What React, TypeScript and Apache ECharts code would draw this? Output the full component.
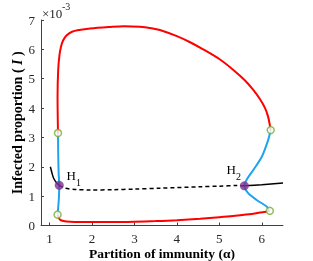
import React, { useEffect, useRef } from "react";
import * as echarts from "echarts";

const xTicks = [1, 2, 3, 4, 5, 6];

const redUpper: [number, number][] = [
  [1.2, 3.15], [1.19, 4.4], [1.205, 5.3], [1.235, 5.8], [1.27, 6.08], [1.32, 6.3], [1.4, 6.47],
  [1.53, 6.6], [1.7, 6.66], [1.96, 6.71], [2.4, 6.76], [2.75, 6.79], [3.13, 6.77], [3.4, 6.72],
  [3.6, 6.66], [4.0, 6.45], [4.3, 6.25], [4.62, 6.0], [5.0, 5.67], [5.33, 5.3], [5.6, 4.95],
  [5.8, 4.62], [5.96, 4.3], [6.08, 3.99], [6.15, 3.7], [6.19, 3.42], [6.21, 3.25],
];
const redLower: [number, number][] = [
  [1.19, 0.37], [1.22, 0.25], [1.27, 0.18], [1.4, 0.14], [1.8, 0.12], [2.5, 0.12], [3.0, 0.13],
  [3.5, 0.15], [4.0, 0.18], [4.55, 0.23], [5.0, 0.28], [5.32, 0.32], [5.7, 0.38], [5.96, 0.44],
  [6.1, 0.47], [6.19, 0.5],
];
const blueLeft: [number, number][] = [
  [1.2, 3.15], [1.205, 2.5], [1.215, 1.8], [1.23, 1.37], [1.22, 0.9], [1.19, 0.37],
];
const blueRight: [number, number][] = [
  [6.21, 3.25], [6.15, 2.91], [6.0, 2.34], [5.8, 1.89], [5.64, 1.55], [5.59, 1.35], [5.68, 1.1],
  [5.88, 0.87], [6.12, 0.64], [6.19, 0.5],
];
const blackLeft: [number, number][] = [
  [1.02, 2.0], [1.06, 1.78], [1.1, 1.6], [1.17, 1.45], [1.23, 1.37],
];
const blackDashed: [number, number][] = [
  [1.23, 1.37], [1.37, 1.27], [1.6, 1.23], [1.96, 1.21], [2.5, 1.22], [3.0, 1.24], [3.6, 1.27],
  [4.55, 1.32], [5.0, 1.34], [5.41, 1.36], [5.59, 1.35],
];
const blackRight: [number, number][] = [[5.59, 1.35], [6.0, 1.39], [6.5, 1.45]];
const limitPoints: [number, number][] = [[1.2, 3.15], [1.19, 0.37], [6.21, 3.25], [6.19, 0.5]];
const hopfPoints: [number, number][] = [[1.23, 1.37], [5.59, 1.35]];

const FONT = "Liberation Serif";
const AX = "#404040";

export default function App() {
  const ref = useRef<HTMLDivElement>(null);
  useEffect(() => {
    if (!ref.current) return;
    const chart = echarts.init(ref.current, undefined, { renderer: "svg" });
    const line = (data: [number, number][], color: string, type: any = "solid", width = 2) => ({
      type: "line",
      data,
      smooth: 0.3,
      symbol: "none",
      lineStyle: { color, width, type },
      z: 2,
    });
    chart.setOption({
      animation: false,
      grid: { left: 41, right: 30, top: 20, bottom: 35.5, outerBoundsMode: "none", containLabel: false },
      xAxis: {
        type: "value",
        min: 0.8,
        max: 6.5,
        name: "Partition of immunity (α)",
        nameLocation: "middle",
        nameGap: 21,
        nameMoveOverlap: false,
        nameTextStyle: { fontFamily: FONT, fontWeight: "bold", fontSize: 13.5, color: "#000" },
        axisLine: { lineStyle: { color: AX, width: 1 } },
        axisTick: { inside: true, length: 3, customValues: xTicks, lineStyle: { color: AX } },
        axisLabel: { customValues: xTicks, fontFamily: FONT, fontSize: 13, color: "#262626", margin: 6 },
        splitLine: { show: false },
      },
      yAxis: {
        type: "value",
        min: 0,
        max: 7,
        interval: 1,
        name: "Infected proportion ( {i|I} )",
        nameLocation: "middle",
        nameGap: 17,
        nameMoveOverlap: false,
        nameTextStyle: {
          fontFamily: FONT, fontWeight: "bold", fontSize: 14, color: "#000",
          rich: { i: { fontFamily: FONT, fontWeight: "bold", fontStyle: "italic", fontSize: 14, color: "#000" } },
        },
        axisLine: { show: true, lineStyle: { color: AX, width: 1 } },
        axisTick: { show: true, inside: true, length: 3, lineStyle: { color: AX } },
        axisLabel: { fontFamily: FONT, fontSize: 13, color: "#262626", margin: 6 },
        splitLine: { show: false },
      },
      series: [
        line(redUpper, "#ff0000"),
        line(redLower, "#ff0000"),
        line(blueLeft, "#1ea4ee"),
        line(blueRight, "#1ea4ee"),
        line(blackLeft, "#000", "solid", 1.5),
        line(blackDashed, "#000", [4, 3], 1.5),
        line(blackRight, "#000", "solid", 1.5),
        {
          type: "scatter",
          data: limitPoints,
          symbol: "circle",
          symbolSize: 7,
          itemStyle: { color: "#fff", borderColor: "#77ac30", borderWidth: 1.5 },
          z: 5,
        },
        {
          type: "scatter",
          data: hopfPoints,
          symbol: "circle",
          symbolSize: 9,
          itemStyle: { color: "#7e2f8e" },
          z: 6,
        },
      ],
      graphic: [
        { type: "text", x: 42, y: 13, z: 10, style: { text: "×10", fontFamily: FONT, fontSize: 13, fill: "#262626", verticalAlign: "middle" } },
        { type: "text", x: 62, y: 6, z: 10, style: { text: "-3", fontFamily: FONT, fontSize: 10, fill: "#262626", verticalAlign: "middle" } },
        { type: "text", x: 66.5, y: 175, z: 10, style: { text: "H", fontFamily: FONT, fontSize: 13, fill: "#000", verticalAlign: "middle" } },
        { type: "text", x: 76, y: 182, z: 10, style: { text: "1", fontFamily: FONT, fontSize: 10, fill: "#000", verticalAlign: "middle" } },
        { type: "text", x: 226.5, y: 169, z: 10, style: { text: "H", fontFamily: FONT, fontSize: 13, fill: "#000", verticalAlign: "middle" } },
        { type: "text", x: 236, y: 176.5, z: 10, style: { text: "2", fontFamily: FONT, fontSize: 10, fill: "#000", verticalAlign: "middle" } },
      ],
    });
    return () => chart.dispose();
  }, []);
  return <div ref={ref} style={{ position: "fixed", left: 0, top: 0, width: 313, height: 261 }} />;
}
